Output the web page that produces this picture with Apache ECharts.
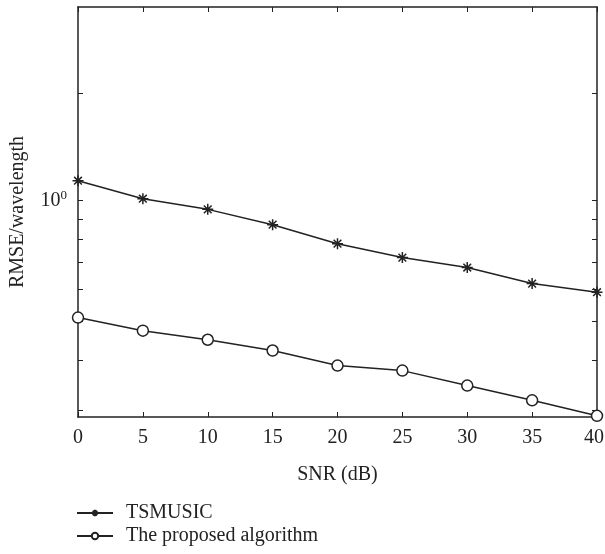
<!DOCTYPE html>
<html>
<head>
<meta charset="utf-8">
<script src="https://cdn.jsdelivr.net/npm/echarts@6/dist/echarts.min.js"></script>
<style>
  html, body { margin: 0; padding: 0; background: #fff; }
  #chart { width: 605px; height: 554px; }
</style>
</head>
<body>
<div id="chart"></div>
<script>
// SNR values (dB)
var snr = [0, 5, 10, 15, 20, 25, 30, 35, 40];
// RMSE / wavelength
var tsmusic = [1.12, 1.01, 0.95, 0.87, 0.78, 0.72, 0.68, 0.62, 0.59];
var proposed = [0.51, 0.473, 0.449, 0.422, 0.387, 0.376, 0.345, 0.317, 0.29];
// tick positions
var yTicks = [0.3, 0.4, 0.5, 0.6, 0.7, 0.8, 0.9, 1, 1.85];
var yLabels = [1];

var ink = '#222';
var serif = '"Liberation Serif", "DejaVu Serif", serif';

function pairs(xs, ys) {
    var res = [];
    for (var i = 0; i < xs.length; i++) {
        res.push([xs[i], ys[i]]);
    }
    return res;
}

// asterisk marker like matlab '*'
var star = 'path://M0,-5L0,5M-5,0L5,0M-3.5,-3.5L3.5,3.5M-3.5,3.5L3.5,-3.5';

var chart = echarts.init(document.getElementById('chart'));

var xBase = {
    type: 'value',
    min: 0,
    max: 40,
    interval: 5,
    splitLine: { show: false },
    axisLine: { show: true, onZero: false, lineStyle: { color: ink, width: 1.5 } },
    axisTick: { show: true, inside: true, length: 5, lineStyle: { color: ink, width: 1 } }
};
var yBase = {
    type: 'log',
    logBase: 10,
    min: 0.288,
    max: 3.04,
    splitLine: { show: false },
    axisLine: { show: true, onZero: false, lineStyle: { color: ink, width: 1.5 } },
    axisTick: { show: true, inside: true, length: 5, customValues: yTicks, lineStyle: { color: ink, width: 1 } }
};

var option = {
    backgroundColor: '#fff',
    animation: false,
    grid: { left: 78, right: 8, top: 7, bottom: 137, outerBoundsMode: 'none' },
    xAxis: [
        Object.assign({}, xBase, {
            position: 'bottom',
            name: 'SNR (dB)',
            nameLocation: 'middle',
            nameGap: 48,
            nameTextStyle: { fontFamily: serif, fontSize: 20, color: ink },
            axisLabel: {
                show: true,
                margin: 11,
                fontFamily: serif,
                fontSize: 20,
                color: ink,
                // last label sits on the page edge, nudge it in a bit
                formatter: function(v) {
                    return v === 40 ? '{e|' + v + '}' : '' + v;
                },
                rich: {
                    e: { fontFamily: serif, fontSize: 20, color: ink, padding: [0, 6, 0, 0] }
                }
            }
        }),
        Object.assign({}, xBase, {
            position: 'top',
            axisLabel: { show: false }
        })
    ],
    yAxis: [
        Object.assign({}, yBase, {
            position: 'left',
            name: 'RMSE/wavelength',
            nameLocation: 'middle',
            nameGap: 50,
            nameTextStyle: { fontFamily: serif, fontSize: 20, color: ink },
            axisLabel: {
                show: true,
                customValues: yLabels,
                margin: 11,
                formatter: function() {
                    return '{b|10}{s|0}';
                },
                rich: {
                    b: { fontFamily: serif, fontSize: 20, color: ink },
                    s: { fontFamily: serif, fontSize: 13, color: ink, verticalAlign: 'top', padding: [0, 0, 10, 0] }
                }
            }
        }),
        Object.assign({}, yBase, {
            position: 'right',
            axisLabel: { show: false }
        })
    ],
    legend: {
        orient: 'vertical',
        left: 76,
        top: 503,
        padding: 0,
        itemWidth: 36,
        itemHeight: 8,
        itemGap: 3,
        textStyle: { fontFamily: serif, fontSize: 20, lineHeight: 20, color: ink, padding: [0, 0, 0, 8] },
        data: ['TSMUSIC', 'The proposed algorithm']
    },
    series: [{
            name: 'TSMUSIC',
            type: 'line',
            data: pairs(snr, tsmusic),
            symbol: star,
            symbolSize: 11,
            lineStyle: { color: ink, width: 1.5 },
            itemStyle: { color: ink, borderColor: ink, borderWidth: 1.5 }
        },
        {
            name: 'The proposed algorithm',
            type: 'line',
            data: pairs(snr, proposed),
            symbol: 'circle',
            symbolSize: 11,
            lineStyle: { color: ink, width: 1.5 },
            itemStyle: { color: '#fff', borderColor: ink, borderWidth: 1.5 }
        }
    ]
};

chart.setOption(option);
</script>
</body>
</html>
